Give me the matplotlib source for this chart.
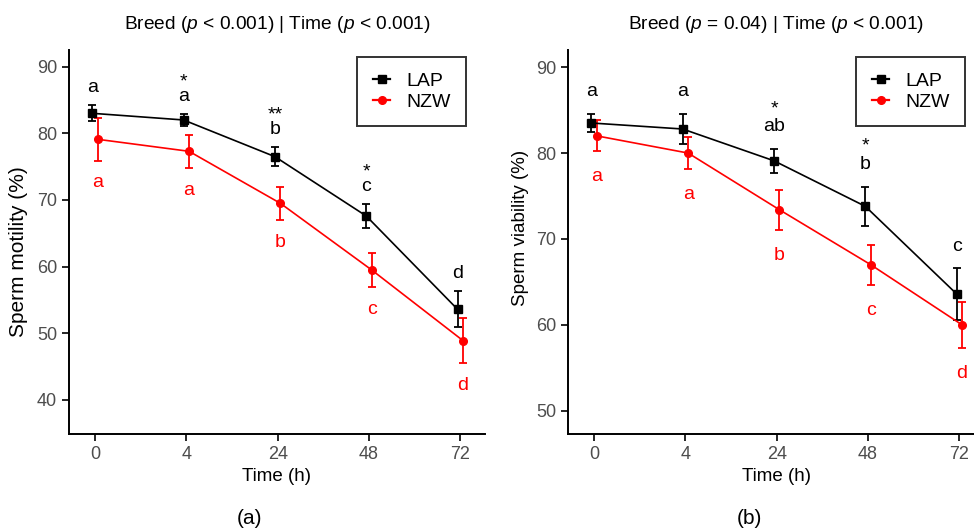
import matplotlib
matplotlib.use('Agg')
import matplotlib.pyplot as plt
from matplotlib.lines import Line2D

plt.rcParams['font.family'] = ['Liberation Sans', 'DejaVu Sans']
plt.rcParams['mathtext.fontset'] = 'custom'
plt.rcParams['mathtext.rm'] = 'Liberation Sans'
plt.rcParams['mathtext.it'] = 'Liberation Sans:italic'

# --- data ---
time_labels = ['0', '4', '24', '48', '72']
breeds = ['LAP', 'NZW']

motility_lap = [83.0, 82.0, 76.5, 67.6, 53.6]
motility_lap_se = [1.2, 0.9, 1.4, 1.8, 2.7]
motility_nzw = [79.1, 77.3, 69.5, 59.5, 48.9]
motility_nzw_se = [3.2, 2.5, 2.5, 2.6, 3.4]
motility_lap_letters = ['a', 'a', 'b', 'c', 'd']
motility_nzw_letters = ['a', 'a', 'b', 'c', 'd']
motility_stars = ['', '*', '**', '*', '']

viability_lap = [83.5, 82.8, 79.1, 73.8, 63.6]
viability_lap_se = [1.05, 1.8, 1.4, 2.3, 3.0]
viability_nzw = [82.0, 80.0, 73.4, 67.0, 60.0]
viability_nzw_se = [1.8, 1.9, 2.3, 2.3, 2.7]
viability_lap_letters = ['a', 'a', 'ab', 'b', 'c']
viability_nzw_letters = ['a', 'a', 'b', 'c', 'd']
viability_stars = ['', '', '*', '*', '']

colors = {'LAP': 'black', 'NZW': '#FF0000'}
markers = {'LAP': 's', 'NZW': 'o'}
dodge = 0.03


def desenhar_painel(ax, lap, lap_se, nzw, nzw_se, lap_let, nzw_let, stars,
                    titulo, ylabel, ylabel_size, ylim, yticks, let_up, espaco, red_down):
    x = list(range(1, len(time_labels) + 1))
    series = [('LAP', lap, lap_se, -dodge), ('NZW', nzw, nzw_se, dodge)]
    handles = []
    for nome, media, se, d in series:
        xs = [xi + d for xi in x]
        ax.errorbar(xs, media, yerr=se, color=colors[nome], marker=markers[nome],
                    markersize=5.5, linewidth=1.2, elinewidth=1.3, capsize=3.2,
                    capthick=1.3)
        handles.append(Line2D([], [], color=colors[nome], marker=markers[nome],
                              markersize=5.5, linewidth=1.6, label=nome))

    # letras (com asterisco por cima, num só texto de duas linhas)
    for i, xi in enumerate(x):
        topo = lap[i] + lap_se[i]
        rotulo = stars[i] + '\n' + lap_let[i] if stars[i] else lap_let[i]
        ax.text(xi - dodge, topo + let_up, rotulo, ha='center', va='bottom',
                fontsize=14, color='black', linespacing=espaco)
        base = nzw[i] - nzw_se[i]
        ax.text(xi + dodge, base - red_down, nzw_let[i], ha='center', va='baseline',
                fontsize=14, color=colors['NZW'])

    ax.set_xlim(0.715, 5.27)
    ax.set_ylim(*ylim)
    ax.set_xticks(x)
    ax.set_xticklabels(time_labels)
    ax.set_yticks(yticks)
    ax.tick_params(axis='both', labelsize=13, labelcolor='#4D4D4D', length=5,
                   width=1.2, color='black')
    for lado in ['top', 'right']:
        ax.spines[lado].set_visible(False)
    for lado in ['left', 'bottom']:
        ax.spines[lado].set_linewidth(1.4)

    ax.set_xlabel('Time (h)', fontsize=13.5)
    ax.set_ylabel(ylabel, fontsize=ylabel_size)
    ax.set_title(titulo, fontsize=13.8, pad=15)

    leg = ax.legend(handles=handles, loc='upper right', bbox_to_anchor=(0.954, 0.982),
                    fontsize=14, frameon=True, fancybox=False, handlelength=0.9,
                    handletextpad=0.8, borderpad=0.8, labelspacing=0.15,
                    borderaxespad=0)
    leg.get_frame().set_edgecolor('black')
    leg.get_frame().set_linewidth(1.4)


fig = plt.figure(figsize=(9.74, 5.31), dpi=100)
ax1 = fig.add_axes([0.0708, 0.1827, 0.4271, 0.7232])
ax2 = fig.add_axes([0.5832, 0.1827, 0.4271, 0.7232])

desenhar_painel(ax1, motility_lap, motility_lap_se, motility_nzw, motility_nzw_se,
                motility_lap_letters, motility_nzw_letters, motility_stars,
                r'Breed ($p$ < 0.001) | Time ($p$ < 0.001)', 'Sperm motility (%)', 15,
                (34.9, 92.5), [40, 50, 60, 70, 80, 90], 1.38, 0.8, 4.0)
desenhar_painel(ax2, viability_lap, viability_lap_se, viability_nzw, viability_nzw_se,
                viability_lap_letters, viability_nzw_letters, viability_stars,
                r'Breed ($p$ = 0.04) | Time ($p$ < 0.001)', 'Sperm viability (%)', 13.5,
                (47.3, 92.0), [50, 60, 70, 80, 90], 1.57, 1.1, 3.5)

ax1.yaxis.set_label_coords(-0.098, 0.474)
ax2.yaxis.set_label_coords(-0.095, 0.536)

fig.text(249 / 974, 1 - 518 / 531, '(a)', ha='center', va='center', fontsize=15)
fig.text(749 / 974, 1 - 518 / 531, '(b)', ha='center', va='center', fontsize=15)

fig.savefig('out.png', dpi=100)
